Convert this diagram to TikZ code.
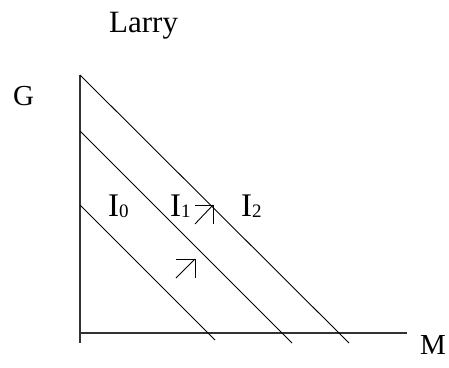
\documentclass[tikz,border=0pt]{standalone}
\usepackage{fontspec}
\setmainfont{Liberation Serif}
\usepackage{tikz}
\usetikzlibrary{positioning}

\newcommand{\lowidx}[1]{\raisebox{-1pt}{\fontsize{19}{21}\selectfont #1}}

\begin{document}
\begin{tikzpicture}[
    x=1pt, y=-1pt,
    % Styles for the indifference map
    axis/.style={draw=black!80, line width=1.1pt},
    curve/.style={draw=black, line width=0.9pt},
    shiftarrow/.style={draw=black, line width=0.9pt},
    lbl/.style={inner sep=0pt, anchor=base west, font=\fontsize{29}{31}\selectfont},
    curvelbl/.style={inner sep=0pt, anchor=base west, font=\fontsize{33}{35}\selectfont}
]
    \useasboundingbox (0,0) rectangle (449,367);

    % 1. Axes
    \coordinate (O) at (80,333);
    \coordinate (Gtop) at (80,75);
    \coordinate (Gbot) at (80,343);
    \coordinate (Mend) at (407,333);
    \draw[axis] (Gtop) -- (Gbot);
    \draw[axis] (O) -- (Mend);

    % 2. Budget / indifference lines
    \coordinate (A0) at (80,205);  \coordinate (B0) at (215,340);
    \coordinate (A1) at (80,131);  \coordinate (B1) at (292,343);
    \coordinate (A2) at (80,75);   \coordinate (B2) at (349,343);
    \draw[curve] (A0) -- (B0);
    \draw[curve] (A1) -- (B1);
    \draw[curve] (A2) -- (B2);

    % 3. Shift arrows
    \coordinate (tipA) at (213,205);
    \coordinate (tipB) at (195,259);
    \draw[shiftarrow] (tipA) ++(-18,19) -- (tipA);
    \draw[shiftarrow] (tipA) ++(-18,0) -- (tipA) -- ++(0,19);
    \draw[shiftarrow] (tipB) ++(-19,19) -- (tipB);
    \draw[shiftarrow] (tipB) ++(-19,0) -- (tipB) -- ++(0,19);

    % 4. Labels
    \node[lbl, font=\fontsize{31}{33}\selectfont] (larry) at (109,32) {Larry};
    \node[lbl] (g) at (13,105) {G};
    \node[lbl] (m) at (420,354) {M};
    \node[curvelbl] (i0) at (108,216) {I\lowidx{0}};
    \node[curvelbl] (i1) at (170,216) {I\lowidx{1}};
    \node[curvelbl] (i2) at (241,216) {I\lowidx{2}};

\end{tikzpicture}
\end{document}
